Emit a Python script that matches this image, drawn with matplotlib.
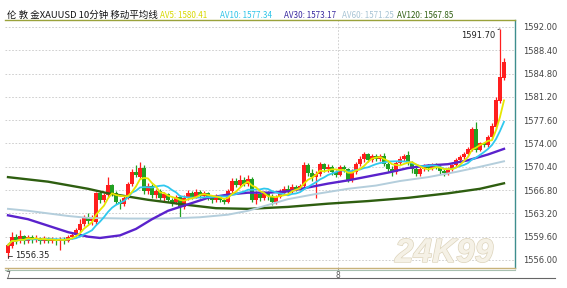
import numpy as np
import pandas as pd
import matplotlib
matplotlib.use("Agg")
import matplotlib.pyplot as plt
import matplotlib.patheffects as pe
from matplotlib.lines import Line2D

plt.rcParams['font.family'] = ['Noto Sans CJK SC', 'DejaVu Sans']

# London gold, 10 minute bars (7th -> 8th)
opens = [
    1557.1, 1558.1, 1559.6, 1558.9, 1559.7, 1559.0, 1559.6, 1559.1, 1559.4, 1558.9,
    1559.3, 1559.0, 1559.2, 1558.9, 1559.3, 1559.0, 1559.6, 1559.9, 1560.6, 1561.5,
    1562.6, 1562.0, 1561.8, 1566.3, 1565.2, 1566.0, 1567.6, 1566.4, 1565.0, 1564.6,
    1565.6, 1567.8, 1569.6, 1568.8, 1570.2, 1566.6, 1567.4, 1566.0, 1566.6, 1565.6,
    1566.2, 1565.3, 1565.0, 1565.7, 1564.2, 1565.6, 1566.4, 1565.8, 1566.5, 1565.9,
    1566.3, 1565.7, 1565.2, 1565.9, 1565.3, 1565.0, 1566.6, 1568.2, 1567.6, 1568.4,
    1567.8, 1568.5, 1565.2, 1566.2, 1565.5, 1566.4, 1565.9, 1564.9, 1565.8, 1566.4,
    1567.0, 1566.6, 1567.3, 1567.0, 1567.5, 1570.7, 1569.5, 1568.8, 1569.3, 1570.8,
    1570.0, 1570.4, 1569.6, 1569.2, 1570.3, 1570.0, 1568.3, 1569.6, 1570.8, 1571.6,
    1572.3, 1571.5, 1572.1, 1571.6, 1572.0, 1570.8, 1570.0, 1569.6, 1571.0, 1571.6,
    1572.2, 1571.0, 1570.0, 1569.3, 1570.0, 1570.5, 1570.2, 1570.7, 1570.3, 1569.7,
    1569.4, 1570.1, 1570.6, 1571.5, 1571.9, 1572.4, 1573.0, 1576.3, 1573.0, 1574.0,
    1573.8, 1575.0, 1576.6, 1580.5, 1584.1]
closes = [
    1558.3, 1559.6, 1558.9, 1559.7, 1559.0, 1559.6, 1559.1, 1559.4, 1558.9, 1559.3,
    1559.0, 1559.2, 1558.9, 1559.3, 1559.0, 1559.6, 1559.9, 1560.6, 1561.5, 1562.6,
    1562.0, 1562.5, 1566.3, 1565.2, 1566.0, 1567.6, 1566.4, 1565.0, 1564.6, 1565.6,
    1567.8, 1569.6, 1569.2, 1570.2, 1566.6, 1567.4, 1566.0, 1566.6, 1565.6, 1566.2,
    1565.3, 1565.0, 1565.7, 1564.2, 1565.6, 1566.4, 1565.8, 1566.5, 1565.9, 1566.3,
    1565.7, 1565.2, 1565.9, 1565.3, 1565.0, 1566.6, 1568.2, 1567.6, 1568.4, 1567.8,
    1568.5, 1565.2, 1566.2, 1565.5, 1566.4, 1565.9, 1564.9, 1565.8, 1566.4, 1567.0,
    1566.6, 1567.3, 1567.0, 1567.5, 1570.7, 1569.5, 1568.8, 1569.3, 1570.8, 1570.0,
    1570.4, 1569.6, 1569.2, 1570.3, 1570.0, 1568.3, 1569.6, 1570.8, 1571.6, 1572.3,
    1571.5, 1572.1, 1571.6, 1572.0, 1570.8, 1570.0, 1569.6, 1571.0, 1571.6, 1572.0,
    1571.0, 1570.0, 1569.3, 1570.0, 1570.5, 1570.2, 1570.7, 1570.3, 1569.7, 1569.4,
    1570.1, 1570.6, 1571.5, 1571.9, 1572.4, 1573.2, 1576.2, 1573.0, 1574.0, 1573.8,
    1575.0, 1576.7, 1580.7, 1584.3, 1586.6]
highs = [
    1558.6, 1560.3, 1560.0, 1560.6, 1559.9, 1559.9, 1559.8, 1559.8, 1559.6, 1559.7,
    1559.5, 1559.5, 1559.4, 1559.6, 1559.6, 1559.9, 1560.2, 1560.9, 1562.4, 1563.0,
    1563.3, 1562.9, 1566.5, 1566.6, 1566.4, 1568.8, 1567.8, 1566.7, 1565.4, 1566.0,
    1568.0, 1570.0, 1570.7, 1571.2, 1570.6, 1567.9, 1567.7, 1566.9, 1566.9, 1566.5,
    1566.4, 1565.6, 1566.0, 1566.0, 1566.0, 1566.8, 1566.7, 1566.9, 1566.8, 1566.6,
    1566.5, 1566.0, 1566.2, 1566.1, 1565.6, 1566.9, 1568.6, 1568.7, 1569.1, 1568.8,
    1569.2, 1568.8, 1566.6, 1566.5, 1566.7, 1566.7, 1566.2, 1566.1, 1566.9, 1567.5,
    1567.6, 1567.8, 1567.6, 1567.8, 1571.1, 1571.0, 1570.0, 1569.8, 1571.2, 1571.0,
    1570.8, 1570.6, 1569.9, 1570.6, 1570.7, 1570.2, 1570.0, 1571.2, 1572.0, 1572.7,
    1572.6, 1572.4, 1572.4, 1572.3, 1572.5, 1571.1, 1570.5, 1571.3, 1572.0, 1572.4,
    1572.8, 1571.3, 1570.4, 1570.3, 1570.8, 1570.9, 1571.0, 1571.0, 1570.6, 1570.0,
    1570.4, 1570.9, 1571.8, 1572.2, 1572.7, 1573.5, 1576.6, 1577.3, 1574.3, 1574.3,
    1575.3, 1577.1, 1581.2, 1591.7, 1587.2]
lows = [
    1556.35, 1557.8, 1558.5, 1558.6, 1558.4, 1558.7, 1558.6, 1558.8, 1558.5, 1558.7,
    1558.6, 1558.7, 1558.3, 1557.6, 1558.5, 1558.8, 1559.2, 1559.6, 1560.3, 1561.2,
    1561.6, 1561.4, 1561.5, 1564.8, 1564.9, 1565.7, 1565.9, 1564.6, 1563.9, 1564.3,
    1565.4, 1567.5, 1568.8, 1568.5, 1566.2, 1566.2, 1565.6, 1565.5, 1565.2, 1565.0,
    1564.9, 1564.4, 1564.6, 1562.6, 1563.9, 1565.2, 1565.4, 1565.5, 1565.6, 1565.5,
    1565.3, 1564.8, 1564.9, 1564.9, 1564.7, 1564.8, 1566.3, 1567.2, 1567.3, 1567.4,
    1567.5, 1564.9, 1564.7, 1565.1, 1565.2, 1565.3, 1564.5, 1564.6, 1565.5, 1566.0,
    1566.2, 1566.4, 1566.7, 1566.8, 1567.2, 1569.0, 1568.2, 1565.5, 1569.0, 1569.6,
    1569.6, 1569.2, 1568.8, 1568.9, 1569.6, 1568.0, 1568.0, 1569.3, 1570.5, 1571.2,
    1571.2, 1571.2, 1571.3, 1571.3, 1570.5, 1569.6, 1569.0, 1569.3, 1570.7, 1571.3,
    1570.6, 1569.5, 1568.9, 1569.0, 1569.7, 1569.8, 1569.9, 1570.0, 1569.3, 1569.0,
    1569.1, 1569.8, 1570.3, 1571.2, 1571.6, 1572.1, 1572.8, 1572.7, 1572.8, 1573.5,
    1573.5, 1574.7, 1576.3, 1580.2, 1583.8]

# long averages (history before the window is not shown)
av30_idx = [0, 5, 10, 15, 20, 23, 28, 32, 36, 40, 45, 50, 55, 60, 65, 70, 75, 80,
            85, 90, 95, 100, 105, 110, 115, 120, 124]
av30_val = [1562.9, 1562.3, 1561.3, 1560.3, 1559.6, 1559.4, 1559.8, 1560.8, 1562.3,
            1563.6, 1564.6, 1565.6, 1566.1, 1566.4, 1566.4, 1566.6, 1567.2, 1567.8,
            1568.3, 1568.9, 1569.5, 1570.2, 1570.6, 1570.8, 1571.4, 1572.3, 1573.17]
av60_idx = [0, 5, 10, 15, 20, 30, 40, 48, 55, 60, 65, 70, 77, 85, 92, 98, 105,
            112, 118, 124]
av60_val = [1563.9, 1563.6, 1563.2, 1562.8, 1562.5, 1562.4, 1562.4, 1562.6, 1563.0,
            1563.6, 1564.5, 1565.4, 1566.2, 1567.0, 1567.5, 1568.2, 1568.8, 1569.6,
            1570.4, 1571.25]
av120_idx = [0, 10, 20, 25, 35, 45, 52, 60, 70, 80, 90, 100, 110, 118, 124]
av120_val = [1568.8, 1568.1, 1567.0, 1566.3, 1565.3, 1564.5, 1564.0, 1563.9, 1564.2,
             1564.7, 1565.1, 1565.6, 1566.3, 1567.0, 1567.85]

day_labels = ['7', '8']
day_pos = [0, 82.5]
price_ticks = [1556.0 + 3.6 * k for k in range(11)]

title = '伦 敦 金XAUUSD 10分钟 移动平均线'
legend_txt = ['AV5: 1580.41', 'AV10: 1577.34', 'AV30: 1573.17', 'AV60: 1571.25', 'AV120: 1567.85']
legend_col = ['#d8d800', '#2ec4e8', '#3a2aa0', '#a8c4d4', '#2e5e10']
legend_x = [160, 220, 284, 342, 397]

df = pd.DataFrame({'open': opens, 'high': highs, 'low': lows, 'close': closes})
df['av5'] = df['close'].rolling(5, min_periods=1).mean()
df['av10'] = df['close'].rolling(10, min_periods=1).mean()
x = np.arange(len(df))

W, H = 567, 288
fig = plt.figure(figsize=(W / 100, H / 100), dpi=100)
ax = fig.add_axes([5 / W, 20 / H, 510 / W, 248 / H])

up = df['close'] >= df['open']
red, green = '#ff1e1e', '#22a022'
cols = np.where(up, red, green)
ax.vlines(x, df['low'], df['high'], colors=cols, lw=0.9, zorder=2)
body = np.maximum((df['close'] - df['open']).abs(), 0.15)
ax.bar(x, body, bottom=np.minimum(df['open'], df['close']), width=0.8,
       color=cols, linewidth=0, zorder=2)

ax.plot(av120_idx, av120_val, color='#2e5e10', lw=1.7, zorder=3)
ax.plot(av60_idx, av60_val, color='#b4cedc', lw=1.4, zorder=3)
ax.plot(av30_idx, av30_val, color='#5a22cc', lw=1.7, zorder=3)
ax.plot(x, df['av10'], color='#30c8ee', lw=1.3, zorder=3)
ax.plot(x, df['av5'], color='#e6e600', lw=1.3, zorder=3)

ax.set_xlim(-0.75, 126.75)
ax.set_ylim(1554.76, 1593.08)
ax.yaxis.tick_right()
ax.set_yticks(price_ticks)
ax.set_yticklabels(['%.2f' % v for v in price_ticks], fontsize=6, color='#444',
                   family='DejaVu Sans')
ax.tick_params(axis='y', length=0, pad=6)
ax.set_xticks(day_pos)
ax.set_xticklabels(day_labels, fontsize=5.5, color='#555', family='DejaVu Sans')
ax.tick_params(axis='x', length=2, pad=0.5, color='#999')
ax.grid(axis='y', ls=(0, (2, 2)), color='#c8c8c8', lw=0.6)
ax.axvline(82.5, ls=(0, (2, 2)), color='#c8c8c8', lw=0.6, zorder=0)

ax.spines['left'].set_visible(False)
ax.spines['top'].set_color('#9aa23a')
ax.spines['right'].set_color('#3e8e8e')
ax.spines['bottom'].set_color('#c8b27a')
for s in ['top', 'right', 'bottom']:
    ax.spines[s].set_linewidth(1.0)

fig.add_artist(Line2D([5 / W, 515 / W], [1 - 270 / H] * 2, color='#a8c0b0', lw=0.8))
fig.add_artist(Line2D([7 / W, 555 / W], [1 - 278 / H] * 2, color='#666', lw=0.8))

# max / min labels
ax.annotate('%.2f' % df['high'].max(), xy=(df['high'].idxmax(), df['high'].max()),
            xytext=(-3.5, -4.5), textcoords='offset points', ha='right', va='center',
            fontsize=6, color='#222', family='DejaVu Sans',
            arrowprops=dict(arrowstyle='-', color='#333', lw=0.6, shrinkA=0, shrinkB=0))
ax.annotate('%.2f' % df['low'].min(), xy=(df['low'].idxmin(), df['low'].min()),
            xytext=(5, 1.5), textcoords='offset points', ha='left', va='center',
            fontsize=6, color='#222', family='DejaVu Sans',
            arrowprops=dict(arrowstyle='-', color='#333', lw=0.6, shrinkA=0, shrinkB=0,
                            connectionstyle='angle,angleA=0,angleB=90,rad=0'))

# watermark
fig.text(395 / W, 1 - 262 / H, '24K99', fontsize=24, style='italic', weight='bold',
         family='Liberation Sans', color='#f5f1e6',
         path_effects=[pe.withStroke(linewidth=1.0, foreground='#ddd4bc')])

# header
fig.text(7 / W, 1 - 18 / H, title, fontsize=6.8, color='#111', va='baseline')
for t, c, px in zip(legend_txt, legend_col, legend_x):
    fig.text(px / W, 1 - 18 / H, t, fontsize=5.8, color=c, va='baseline')

fig.savefig('out.png', dpi=100)
